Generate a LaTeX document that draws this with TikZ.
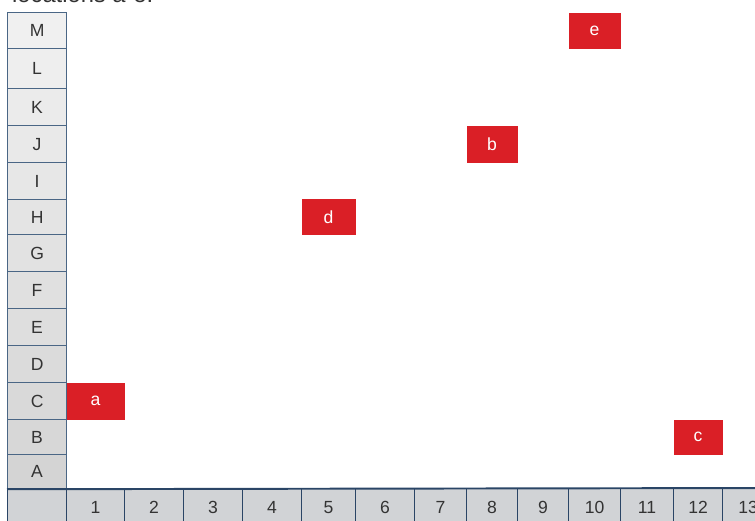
\documentclass[tikz,border=0pt]{standalone}
\usepackage{fontspec}
\setmainfont{Liberation Sans}
\usetikzlibrary{positioning}
\definecolor{gridblue}{HTML}{4A6685}
\definecolor{edgenavy}{HTML}{2A4566}
\definecolor{locred}{HTML}{DA1F26}
\definecolor{numgray}{HTML}{D1D3D6}
\definecolor{inkgray}{HTML}{333333}

\begin{document}
\begin{tikzpicture}[
  x=0.02cm, y=-0.02cm,
  every node/.style={font=\fontsize{10}{12}\selectfont, text=inkgray},
  cell/.style={draw=gridblue, line width=0.7pt, inner sep=0pt, anchor=north west},
  lab/.style={cell, minimum width=1.18cm},
  num/.style={cell, draw=edgenavy, fill=numgray, minimum height=0.74cm},
  loc/.style={fill=locred, text=white, inner sep=0pt}
]
\useasboundingbox (0,0) rectangle (755,521);

%% heading (cut off at the top)
\node[anchor=base west, font=\fontsize{13.5}{16}\selectfont, text=black!80]
  (title) at (6,2) {locations a-e.};

%% letter column
\foreach \r/\ya/\yb [count=\i] in {M/12/48, L/48/88, K/88/125, J/125/162,
    I/162/199, H/199/234, G/234/271, F/271/308, E/308/345, D/345/382,
    C/382/419, B/419/454, A/454/488}
{
  \pgfmathsetmacro\p{5+\i*0.9}
  \node[lab, fill=black!\p, minimum height={(\yb-\ya)*0.02cm}] (r-\r) at (7,\ya) {\r};
}

%% number row
\node[num, minimum width=1.18cm] (c-0) at (7,488) {};
\foreach \n/\xa/\xb in {1/66/124, 2/124/183, 3/183/242, 4/242/301, 5/301/355,
    6/355/414, 7/414/466, 8/466/517, 9/517/568, 10/568/620, 11/620/673,
    12/673/722, 13/722/773}
  \node[num, minimum width={(\xb-\xa)*0.02cm}] (c-\n) at (\xa,488) {\n};

\draw[edgenavy, line width=1.1pt] (r-A.south west) -- (c-13.north east);

%% locations
\node[loc, minimum width=1.16cm, minimum height=0.74cm] (a) at (c-1 |- r-C) {a};
\node[loc, minimum width=1.02cm, minimum height=0.74cm] (b) at (c-8 |- r-J) {b};
\node[loc, minimum width=0.98cm, minimum height=0.70cm] (c) at (c-12 |- r-B) {c};
\node[loc, minimum width=1.08cm, minimum height=0.72cm] (d) at (c-5 |- r-H) {d};
\node[loc, minimum width=1.04cm, minimum height=0.72cm] (e) at (c-10 |- r-M) {e};

\end{tikzpicture}
\end{document}
